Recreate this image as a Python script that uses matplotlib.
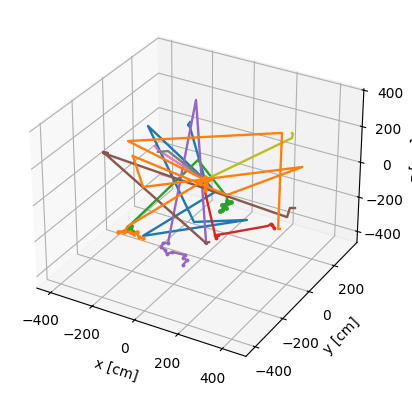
import matplotlib
matplotlib.use('Agg')
import numpy as np
from matplotlib import pyplot as plt

x_ticks = [-400, -200, 0, 200, 400]
y_ticks = [-400, -200, 0, 200]
z_ticks = [-400, -200, 0, 200, 400]

blue_x = [-119, -129, -120, 17, 64, -214, 276, 31, -322, 17]
blue_y = [100, 100, 100, 0, 0, -100, -100, -100, 100, 0]
blue_z = [207, 188, 179, -6, -58, -338, -70, -169, 120, -6]

orange_a_x = [17, -6, 17, 41, 22, 17, 17, -286, -307, -336, -306, -277, -258, -243, -233, -214]
orange_a_y = [0, 0, 0, 0, 0, 0, 0, -100, -100, -100, -100, -100, -100, -100, -100, -100]
orange_a_z = [-6, -20, 10, 7, -33, -63, -6, -307, -349, -360, -343, -338, -343, -326, -351, -350]

green_x = [-292, -271, -262, -286, -16, 120, 120, 139, 107, 125, 97, 116, 97, 88]
green_y = [-100, -100, -100, -100, 0, 0, 0, 0, 0, 0, 0, 0, 0, 0]
green_z = [-332, -301, -333, -312, 94, -66, -89, -88, -128, -99, -120, -130, -148, -157]

red_x = [8, 130, 134, 143, 311, 324, 339, 329]
red_y = [0, -100, -100, -100, 0, 0, 0, 0]
red_z = [-27, -208, -223, -202, -162, -146, -164, -150]

purple_x = [88, -157, -24, -48, -58, -39, -29, -6, 55, 46, 65, 46]
purple_y = [-100, 200, -200, -200, -200, -200, -200, -200, -200, -200, -200, -200]
purple_z = [-263, 256, -237, -246, -272, -282, -302, -281, -276, -296, -301, -336]

brown_x = [373, 350, 338, -400, -376, -400, 92, 83, 102]
brown_y = [100, 100, 100, -100, -100, -100, -100, -100, -100]
brown_z = [-109, -117, -173, 71, 79, 77, -272, -270, -258]

pink_x = [-289, -275, 17]
pink_y = [100, 100, 0]
pink_z = [17, -1, -6]

gray_x = [-275, -226, 17]
gray_y = [100, 100, 0]
gray_z = [-12, 9, -6]

olive_x = [17, 351, 355, 351]
olive_y = [0, 100, 100, 100]
olive_z = [-6, 271, 294, 298]

orange_b_x = [17, -422, 306, 298, 307]
orange_b_y = [0, 100, 100, 100, 100]
orange_b_z = [-6, 2, 284, -256, -252]

orange_c_x = [-399, -351, 400, 57, -399]
orange_c_y = [100, 100, 100, 100, 100]
orange_c_z = [-77, -241, 129, -146, -77]

fig = plt.figure(figsize=(4.12, 3.96), dpi=100)
ax = fig.add_axes([0.0214, 0.0405, 0.903, 0.94], projection='3d')

lw = 1.7
ax.plot(blue_x, blue_y, blue_z, color='C0', lw=lw)
ax.plot(green_x, green_y, green_z, color='C2', lw=lw, marker='.', ms=5,
        markevery=[0, 1, 2, 3, 6, 7, 8, 9, 10, 11, 12, 13])
ax.plot(red_x, red_y, red_z, color='C3', lw=lw, marker='.', ms=3.5,
        markevery=[1, 2, 3, 5, 6, 7])
ax.plot(purple_x, purple_y, purple_z, color='C4', lw=lw, marker='.', ms=3.5,
        markevery=list(range(2, 12)))
ax.plot(brown_x, brown_y, brown_z, color='C5', lw=lw)
ax.plot(pink_x, pink_y, pink_z, color='C6', lw=lw)
ax.plot(gray_x, gray_y, gray_z, color='C7', lw=lw)
ax.plot(olive_x, olive_y, olive_z, color='C8', lw=lw)
ax.plot(orange_c_x, orange_c_y, orange_c_z, color='C1', lw=lw)
ax.plot(orange_b_x, orange_b_y, orange_b_z, color='C1', lw=lw)
ax.plot(orange_a_x, orange_a_y, orange_a_z, color='C1', lw=lw, marker='.', ms=4.5,
        markevery=[0, 1, 2, 3, 4, 5, 8, 9, 10, 11, 12, 13, 14, 15])

ax.set_xlim(-467, 505)
ax.set_ylim(-466, 387)
ax.set_zlim(-465, 408)
ax.set_xticks(x_ticks)
ax.set_yticks(y_ticks)
ax.set_zticks(z_ticks)
ax.set_xlabel('x [cm]')
ax.set_ylabel('y [cm]')
ax.set_zlabel('z [cm]')

fig.savefig('out.png', dpi=100)
